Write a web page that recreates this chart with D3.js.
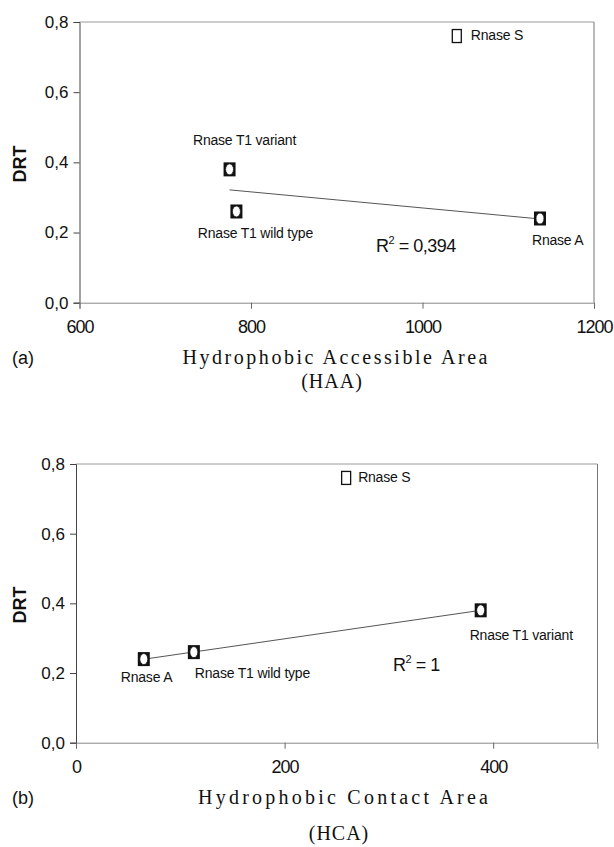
<!DOCTYPE html>
<html>
<head>
<meta charset="utf-8">
<script src="https://cdn.jsdelivr.net/npm/d3@7"></script>
<style>
  body { margin: 0; background: #fff; }
  .tick-y { font: 17px "Liberation Sans", Arial, sans-serif; fill: #111; }
  .tick-x { font: 18px "Liberation Sans", Arial, sans-serif; fill: #111; letter-spacing: -1px; }
  .pt-label { font: 14px "Liberation Sans", Arial, sans-serif; fill: #111; letter-spacing: -0.2px; }
  .r2 { font: 18px "Liberation Sans", Arial, sans-serif; fill: #111; letter-spacing: -0.5px; }
  .ylab { font: bold 18px "Liberation Sans", Arial, sans-serif; fill: #111; }
  .panel { font: 18px "Liberation Sans", Arial, sans-serif; fill: #111; }
  .title { font: 20px "Liberation Serif", "Times New Roman", serif; fill: #111; }
</style>
</head>
<body>
<div id="chart"></div>
<script>
// values
var proteins = ["Rnase A", "Rnase S", "Rnase T1 wild type", "Rnase T1 variant"];
var drt = [0.24, 0.76, 0.26, 0.38];
var haa = [1137, 1040, 783, 775];
var hca = [65, 259, 113, 388];
var inFit = [true, false, true, true];   // Rnase S left out of the trend line

var yTicks = [0, 0.2, 0.4, 0.6, 0.8];
var haaTicks = [600, 800, 1000, 1200];
var hcaTicks = [0, 200, 400];
var r2Values = ["0,394", "1"];

var W = 614, H = 847;
var fmt = function(v) { return d3.format(".1f")(v).replace(".", ","); };

var svg = d3.select("#chart").append("svg")
    .attr("width", W)
    .attr("height", H)
    .style("display", "block");

svg.append("rect").attr("width", W).attr("height", H).attr("fill", "#fff");

var panels = [
  {
    xs: haa, xDomain: [600, 1200], xTicks: haaTicks,
    left: 79.5, right: 594, top: 22, bottom: 302.7,
    tag: "(a)", title: "Hydrophobic Accessible Area", titleLen: 305, titleX: 335,
    sub: "(HAA)", subX: 332, titleDy: 61, subDy: 85,
    ylabY: 164, r2: r2Values[0], r2X: 376, r2Y: 252,
    // label offsets per protein: [dx, dy, anchor]
    lab: [[-8, 27, "start"], [14, 4, "start"], [19, 27, "middle"], [15, -24, "middle"]]
  },
  {
    xs: hca, xDomain: [0, 500], xTicks: hcaTicks,
    left: 76, right: 597.5, top: 464, bottom: 742.7,
    tag: "(b)", title: "Hydrophobic Contact Area", titleLen: 290, titleX: 343,
    sub: "(HCA)", subX: 339, titleDy: 61, subDy: 97,
    ylabY: 605, r2: r2Values[1], r2X: 393, r2Y: 671,
    lab: [[-23, 23, "start"], [12, 4, "start"], [1, 26, "start"], [-11, 30, "start"]]
  }
];

panels.forEach(function(p) {
  var x = d3.scaleLinear().domain(p.xDomain).range([p.left, p.right]);
  var y = d3.scaleLinear().domain([0, 0.8]).range([p.bottom, p.top]);
  var g = svg.append("g");

  // plot frame: top and right borders
  g.append("line").attr("x1", p.left).attr("x2", p.right).attr("y1", p.top).attr("y2", p.top)
      .attr("stroke", "#9a9a9a").attr("stroke-width", 1);
  g.append("line").attr("x1", p.right).attr("x2", p.right).attr("y1", p.top).attr("y2", p.bottom)
      .attr("stroke", "#777").attr("stroke-width", 1);

  // y axis
  var yAxis = g.append("g")
      .attr("transform", "translate(" + p.left + ",0)")
      .call(d3.axisLeft(y).tickValues(yTicks).tickFormat(fmt).tickSize(6).tickPadding(5));
  yAxis.select(".domain").attr("stroke", "#444");
  yAxis.selectAll(".tick line").attr("stroke", "#444");
  yAxis.selectAll(".tick text").attr("class", "tick-y");
  yAxis.attr("font-size", null).attr("font-family", null);

  // x axis
  var xAxis = g.append("g")
      .attr("transform", "translate(0," + p.bottom + ")")
      .call(d3.axisBottom(x).tickValues(p.xTicks).tickFormat(d3.format("d")).tickSize(6).tickPadding(12));
  xAxis.select(".domain").attr("stroke", "#888");
  xAxis.selectAll(".tick line").attr("stroke", "#666");
  xAxis.selectAll(".tick text").attr("class", "tick-x");
  xAxis.attr("font-size", null).attr("font-family", null);

  // trend line over the fitted points
  var fit = d3.range(proteins.length).filter(function(i) { return inFit[i]; });
  var mx = d3.mean(fit, function(i) { return p.xs[i]; });
  var my = d3.mean(fit, function(i) { return drt[i]; });
  var sxy = d3.sum(fit, function(i) { return (p.xs[i] - mx) * (drt[i] - my); });
  var sxx = d3.sum(fit, function(i) { return (p.xs[i] - mx) * (p.xs[i] - mx); });
  var slope = sxy / sxx, icpt = my - slope * mx;
  var ext = d3.extent(fit, function(i) { return p.xs[i]; });
  g.append("line")
      .attr("x1", x(ext[0])).attr("y1", y(icpt + slope * ext[0]))
      .attr("x2", x(ext[1])).attr("y2", y(icpt + slope * ext[1]))
      .attr("stroke", "#555").attr("stroke-width", 1);

  // markers
  proteins.forEach(function(name, i) {
    var cx = x(p.xs[i]), cy = y(drt[i]);
    if (inFit[i]) {
      g.append("rect").attr("x", cx - 6).attr("y", cy - 7).attr("width", 12).attr("height", 14)
          .attr("fill", "#111");
      g.append("ellipse").attr("cx", cx).attr("cy", cy).attr("rx", 4).attr("ry", 5.5)
          .attr("fill", "#fff").attr("stroke", "#111").attr("stroke-width", 0.8);
    } else {
      g.append("rect").attr("x", cx - 4.5).attr("y", cy - 6.5).attr("width", 9).attr("height", 13)
          .attr("fill", "#fff").attr("stroke", "#111").attr("stroke-width", 1.3);
    }
    g.append("text")
        .attr("class", "pt-label")
        .attr("x", cx + p.lab[i][0])
        .attr("y", cy + p.lab[i][1])
        .attr("text-anchor", p.lab[i][2])
        .text(name);
  });

  // R squared
  var r2 = g.append("text").attr("class", "r2").attr("x", p.r2X).attr("y", p.r2Y);
  r2.append("tspan").text("R");
  r2.append("tspan").attr("font-size", "11px").attr("dy", -8).text("2");
  r2.append("tspan").attr("dy", 8).text(" = " + p.r2);

  // axis titles
  g.append("text").attr("class", "ylab")
      .attr("transform", "translate(26," + p.ylabY + ") rotate(-90)")
      .attr("text-anchor", "middle")
      .text("DRT");

  g.append("text").attr("class", "panel")
      .attr("x", 12).attr("y", p.bottom + p.titleDy)
      .text(p.tag);

  g.append("text").attr("class", "title")
      .attr("x", p.titleX - p.titleLen / 2).attr("y", p.bottom + p.titleDy)
      .attr("textLength", p.titleLen).attr("lengthAdjust", "spacing")
      .text(p.title);

  g.append("text").attr("class", "title")
      .attr("x", p.subX).attr("y", p.bottom + p.subDy)
      .attr("text-anchor", "middle")
      .attr("letter-spacing", "1px")
      .text(p.sub);
});
</script>
</body>
</html>
